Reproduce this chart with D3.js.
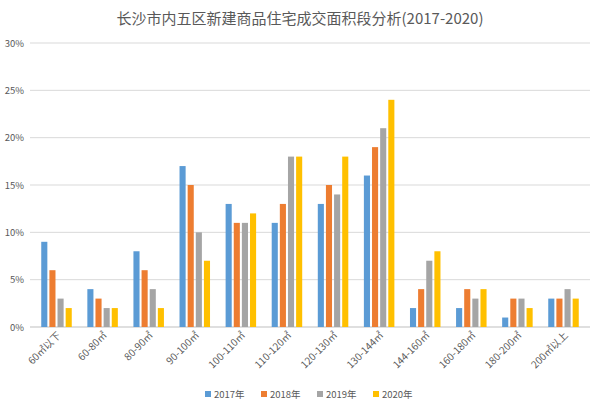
<!DOCTYPE html><html><head><meta charset="utf-8"><script src="https://cdn.jsdelivr.net/npm/d3@7"></script>
<style>body{margin:0;background:#fff}text{font-family:"Noto Sans CJK SC","Noto Sans",sans-serif}</style></head><body>
<svg id="c" width="600" height="412"></svg>
<script>
const categories=["60㎡以下","60-80㎡","80-90㎡","90-100㎡","100-110㎡","110-120㎡","120-130㎡","130-144㎡","144-160㎡","160-180㎡","180-200㎡","200㎡以上"];
const seriesNames=["2017年","2018年","2019年","2020年"];
const colors=["#5b9bd5","#ed7d31","#a5a5a5","#ffc000"];
const s2017=[9,4,8,17,13,11,13,16,2,2,1,3];
const s2018=[6,3,6,15,11,13,15,19,4,4,3,3];
const s2019=[3,2,4,10,11,18,14,21,7,3,3,4];
const s2020=[2,2,2,7,12,18,18,24,8,4,2,3];
const yTicks=[0,5,10,15,20,25,30];
const series=[s2017,s2018,s2019,s2020];
const svg=d3.select("#c");
const L=30,R=590,T=43,B=327;
const x=d3.scaleBand().domain(categories).range([L,R]).paddingInner(0.25).paddingOuter(0.2);
const xi=d3.scaleBand().domain(d3.range(4)).range([0,x.bandwidth()]).padding(0.25);
const y=d3.scaleLinear().domain([0,30]).range([B,T]);
svg.append("text").attr("x",300).attr("y",24).attr("text-anchor","middle").attr("font-size",15).attr("fill","#595959").text("长沙市内五区新建商品住宅成交面积段分析(2017-2020)");
const g=svg.append("g");
yTicks.forEach(t=>{g.append("line").attr("x1",L).attr("x2",R).attr("y1",y(t)).attr("y2",y(t)).attr("stroke",t?"#d9d9d9":"#bfbfbf");
g.append("text").attr("x",L-6).attr("y",y(t)+3.5).attr("text-anchor","end").attr("font-size",9.5).attr("fill","#595959").text(t+"%");});
series.forEach((s,i)=>{g.selectAll(null).data(s).enter().append("rect").attr("x",(d,j)=>x(categories[j])+xi(i)).attr("width",xi.bandwidth()).attr("y",d=>y(d)).attr("height",d=>B-y(d)).attr("fill",colors[i]);});
categories.forEach(c=>{const cx=x(c)+x.bandwidth()/2+5;g.append("text").attr("transform",`translate(${cx},${B+9}) rotate(-45)`).attr("text-anchor","end").attr("font-size",10).attr("fill","#595959").text(c);});
seriesNames.forEach((n,i)=>{const lx=205+i*56;svg.append("rect").attr("x",lx).attr("y",391).attr("width",6).attr("height",6).attr("fill",colors[i]);
svg.append("text").attr("x",lx+9).attr("y",397.5).attr("font-size",9.5).attr("fill","#595959").text(n);});
</script></body></html>
